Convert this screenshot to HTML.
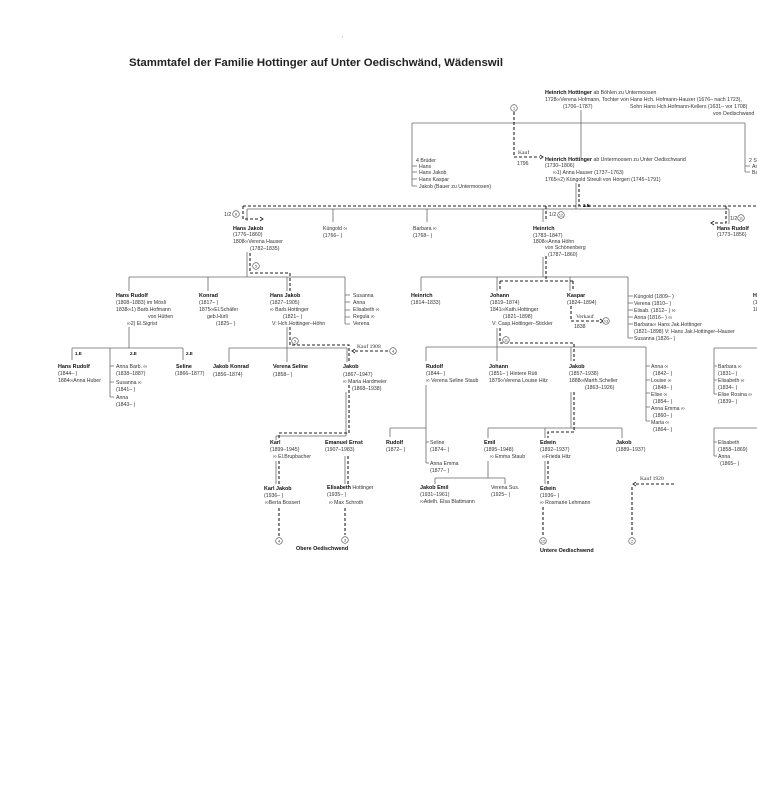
<!DOCTYPE html>
<html><head><meta charset="utf-8"><style>
html,body{margin:0;padding:0;background:#fff;}
svg{display:block}
text{font-family:"Liberation Sans","DejaVu Sans",sans-serif;font-size:5.2px;fill:#333}
.b{font-weight:bold;fill:#111;font-size:5.4px}
.s{font-family:"Liberation Serif","DejaVu Serif",serif;font-size:5.6px;fill:#333}
.l{stroke:#6a6a6a;stroke-width:.8;fill:none}
.d{stroke:#222;stroke-width:1.1;fill:none;stroke-dasharray:3 2}
.a{stroke:#222;stroke-width:.9;fill:none}
.c{fill:#fff;stroke:#444;stroke-width:.6}
.cn{font-size:3.8px;text-anchor:middle;fill:#333}
</style></head><body>
<svg width="757" height="800" viewBox="0 0 757 800" xmlns="http://www.w3.org/2000/svg">
<rect width="757" height="800" fill="#fff"/>
<text x="342" y="38" style="font-size:4px;fill:#888">ı</text>
<text x="129" y="66" style="font-size:11px;font-weight:bold;fill:#222" textLength="374" lengthAdjust="spacingAndGlyphs">Stammtafel der Familie Hottinger auf Unter Oedischwänd, Wädenswil</text>

<!-- SOLID LINES -->
<path class="l" d="M581 110V158 M412 123H745 M412 123V186 M412 166H417 M412 172H417 M412 179H417 M412 186H417 M745 123V172 M745 166H750 M745 172H750
M576 183V209 M247 209H729 M247 209V221 M333 209V222 M427 209V222 M543 209V222 M729 209V224
M247 252V277 M129 277H345 M129 277V291 M208 277V291 M287 277V291 M345 277V324 M345 295H350 M345 302H350 M345 310H350 M345 317H350 M345 324H350
M543 257V277 M421 277H628 M421 277V291 M497 277V291 M570 277V291 M628 277V338 M628 296H633 M628 303H633 M628 310H633 M628 317H633 M628 324H633 M628 338H633
M129 327V348 M72 348H183 M72 348V360 M110 348V397 M110 366H114 M110 382H114 M110 397H114 M183 348V360
M287 327V362 M229 348H347 M229 348V362 M347 348V362
M346 392V436 M276 436H346 M276 436V440 M276 461V484 M345 456V484
M497 328V361 M426 347H646 M426 347V361 M571 347V361 M646 347V421 M646 366H650 M646 380H650 M646 393H650 M646 407H650 M646 421H650
M426 385V463 M426 442H429 M426 463H429 M390 428H426 M390 428V437
M571 392V428 M488 428H622 M488 428V438 M545 428V438 M622 428V438
M488 461V478 M435 478H505 M435 478V484 M505 478V484 M545 461V484
M714 348H757 M714 348V394 M714 366H717 M714 380H717 M714 394H717 M714 428H757 M714 428V456 M714 442H717 M714 456H717"/>

<!-- DASHED LINES -->
<path class="d" d="M514 112V157H540 M579 184V206 M243 206H757 M243 206V219H260 M546 206V221 M726 206V223H714
M250 253V273H290V291 M546 256V281 M500 281H573 M500 281V291 M573 281V291 M571 306V321H600
M290 327V345H349V362 M349 385V433H279V440 M279 461V484 M279 508V537 M348 456V484 M345 508V535
M388 351H355 M500 328V343H574V361 M574 392V432H548V438 M548 461V484 M543 507V537
M636 484H675 M632 487V537"/>
<!-- arrowheads -->
<path class="a" d="M540 155L543 157L540 159 M260 217L263 219L260 221 M714 221L711 223L714 225 M600 319L603 321L600 323 M355 349L352 351L355 353 M636 482L633 484L636 486"/>

<!-- CIRCLES -->
<g>
<circle class="c" cx="514" cy="108" r="3.3"/><text class="cn" x="514" y="109.4">1</text>
<circle class="c" cx="236" cy="214" r="3.3"/><text class="cn" x="236" y="215.4">6</text>
<circle class="c" cx="561" cy="215" r="3.3"/><text class="cn" x="561" y="216.4">12</text>
<circle class="c" cx="741" cy="218" r="3.3"/><text class="cn" x="741" y="219.4">11</text>
<circle class="c" cx="256" cy="266" r="3.3"/><text class="cn" x="256" y="267.4">5</text>
<circle class="c" cx="606" cy="321" r="3.3"/><text class="cn" x="606" y="322.4">13</text>
<circle class="c" cx="295" cy="341" r="3.3"/><text class="cn" x="295" y="342.4">5</text>
<circle class="c" cx="393" cy="351" r="3.3"/><text class="cn" x="393" y="352.4">4</text>
<circle class="c" cx="506" cy="340" r="3.3"/><text class="cn" x="506" y="341.4">11</text>
<circle class="c" cx="279" cy="541" r="3.3"/><text class="cn" x="279" y="542.4">4</text>
<circle class="c" cx="345" cy="540" r="3.3"/><text class="cn" x="345" y="541.4">3</text>
<circle class="c" cx="543" cy="541" r="3.3"/><text class="cn" x="543" y="542.4">12</text>
<circle class="c" cx="632" cy="541" r="3.3"/><text class="cn" x="632" y="542.4">2</text>
</g>

<!-- TOP -->
<text x="545" y="94"><tspan class="b">Heinrich Hottinger</tspan> ab Böhlen zu Untermoosen</text>
<text x="545" y="101">1728∞Verena Hofmann, Tochter von Hans Hch. Hofmann-Hauser (1676– nach 1723),</text>
<text x="563" y="108">(1706–1787)</text>
<text x="630" y="108">Sohn Hans Hch.Hofmann-Kellers (1631– vor 1708)</text>
<text x="713" y="115">von Oedischwand</text>
<text class="s" x="518" y="154">Kauf</text>
<text x="517" y="165">1796</text>
<text x="545" y="161"><tspan class="b">Heinrich Hottinger</tspan> ab Untermoosen zu Unter Oedischwand</text>
<text x="545" y="167">(1730–1806)</text>
<text x="553" y="174">∞1) Anna Hauser (1737–1763)</text>
<text x="545" y="181">1765∞2) Küngold Streuli von Horgen (1745–1791)</text>
<text x="416" y="162">4 Brüder</text>
<text x="419" y="168">Hans</text>
<text x="419" y="174">Hans Jakob</text>
<text x="419" y="181">Hans Kaspar</text>
<text x="419" y="188">Jakob (Bauer zu Untermoosen)</text>
<text x="749" y="162">2 Schwestern</text>
<text x="752" y="168">Anna</text>
<text x="752" y="174">Barbara</text>

<!-- GEN III -->
<text x="224" y="216">1/2</text>
<text class="b" x="233" y="230">Hans Jakob</text>
<text x="233" y="236">(1776–1860)</text>
<text x="233" y="243">1808∞Verena Hauser</text>
<text x="250" y="250">(1782–1835)</text>
<text x="323" y="230">Küngold ∞</text>
<text x="323" y="237">(1766–    )</text>
<text x="413" y="230">Barbara ∞</text>
<text x="413" y="237">(1768–    )</text>
<text x="549" y="216">1/2</text>
<text class="b" x="533" y="230">Heinrich</text>
<text x="533" y="237">(1783–1847)</text>
<text x="533" y="243">1808∞Anna Höhn</text>
<text x="545" y="249">von Schönenberg</text>
<text x="548" y="256">(1787–1860)</text>
<text class="b" x="583" y="207" style="font-size:4.5px">2.E</text>
<text x="730" y="220">1/2</text>
<text class="b" x="717" y="230">Hans Rudolf</text>
<text x="717" y="236">(1773–1856)</text>

<!-- GEN IV left -->
<text class="b" x="116" y="297">Hans Rudolf</text>
<text x="116" y="304">(1808–1883) im Mösli</text>
<text x="116" y="311">1838∞1) Barb.Hofmann</text>
<text x="148" y="318">von Hütten</text>
<text x="127" y="325">∞2) El.Sigrist</text>
<text class="b" x="199" y="297">Konrad</text>
<text x="199" y="304">(1817–    )</text>
<text x="199" y="311">1875∞El.Schäfer</text>
<text x="207" y="318">geb.Hürli</text>
<text x="216" y="325">(1825–    )</text>
<text class="b" x="270" y="297">Hans Jakob</text>
<text x="270" y="304">(1827–1905)</text>
<text x="270" y="311">∞ Barb.Hottinger</text>
<text x="283" y="318">(1821–    )</text>
<text x="272" y="325">V: Hch.Hottinger–Höhn</text>
<text x="353" y="297">Susanna</text>
<text x="353" y="304">Anna</text>
<text x="353" y="311">Elisabeth ∞</text>
<text x="353" y="318">Regula ∞</text>
<text x="353" y="325">Verena</text>

<!-- GEN IV middle -->
<text class="b" x="411" y="297">Heinrich</text>
<text x="411" y="304">(1814–1833)</text>
<text class="b" x="490" y="297">Johann</text>
<text x="490" y="304">(1819–1874)</text>
<text x="490" y="311">1841∞Kath.Hottinger</text>
<text x="503" y="318">(1821–1898)</text>
<text x="492" y="325">V: Casp.Hottinger–Stickler</text>
<text class="b" x="567" y="297">Kaspar</text>
<text x="567" y="304">(1824–1894)</text>
<text class="s" x="576" y="318">Verkauf</text>
<text x="574" y="328">1838</text>
<text x="634" y="298">Küngold (1809–    )</text>
<text x="634" y="305">Verena (1810–    )</text>
<text x="634" y="312">Elisab. (1812–    ) ∞</text>
<text x="634" y="319">Anna (1816–    ) ∞</text>
<text x="634" y="326">Barbara∞ Hans Jak.Hottinger</text>
<text x="634" y="333">(1821–1898)  V: Hans Jak.Hottinger–Hauser</text>
<text x="634" y="340">Susanna (1826–    )</text>
<text class="b" x="753" y="297">H</text>
<text x="753" y="304">(1</text>
<text x="753" y="311">18</text>

<!-- GEN V left -->
<text class="b" x="75" y="355" style="font-size:4.5px">1.E</text>
<text class="b" x="130" y="355" style="font-size:4.5px">2.E</text>
<text class="b" x="186" y="355" style="font-size:4.5px">2.E</text>
<text class="b" x="58" y="368">Hans Rudolf</text>
<text x="58" y="375">(1844–    )</text>
<text x="58" y="382">1884∞Anna Huber</text>
<text x="116" y="368">Anna Barb. ∞</text>
<text x="116" y="375">(1838–1887)</text>
<text x="116" y="384">Susanna ∞</text>
<text x="116" y="391">(1841–    )</text>
<text x="116" y="399">Anna</text>
<text x="116" y="406">(1843–    )</text>
<text class="b" x="176" y="368">Seline</text>
<text x="175" y="375">(1866–1877)</text>
<text class="b" x="213" y="368">Jakob Konrad</text>
<text x="213" y="376">(1856–1874)</text>
<text class="b" x="273" y="368">Verena Seline</text>
<text x="273" y="376">(1858–    )</text>
<text class="b" x="343" y="368">Jakob</text>
<text x="343" y="376">(1867–1947)</text>
<text x="343" y="383">∞ Maria Hardmeier</text>
<text x="352" y="390">(1868–1938)</text>
<text class="s" x="357" y="348">Kauf 1908</text>

<!-- GEN VI/VII left -->
<text class="b" x="270" y="444">Karl</text>
<text x="270" y="451">(1899–1945)</text>
<text x="273" y="458">∞ El.Brupbacher</text>
<text class="b" x="325" y="444">Emanuel Ernst</text>
<text x="325" y="451">(1907–1983)</text>
<text class="b" x="264" y="490">Karl Jakob</text>
<text x="264" y="497">(1936–    )</text>
<text x="265" y="504">∞Berta Bossert</text>
<text x="327" y="489"><tspan class="b">Elisabeth</tspan> Hottinger</text>
<text x="327" y="496">(1935–    )</text>
<text x="329" y="504">∞ Max Schroth</text>
<text class="b" x="296" y="550">Obere Oedischwend</text>

<!-- GEN V middle -->
<text class="b" x="426" y="368">Rudolf</text>
<text x="426" y="375">(1844–    )</text>
<text x="426" y="382">∞ Verena Seline Staub</text>
<text class="b" x="489" y="368">Johann</text>
<text x="489" y="375">(1851–    ) Hintere Rüti</text>
<text x="489" y="382">1879∞Verena Louise Hitz</text>
<text class="b" x="569" y="368">Jakob</text>
<text x="569" y="375">(1857–1938)</text>
<text x="569" y="382">1888∞Marth.Scheller</text>
<text x="585" y="389">(1863–1926)</text>
<text x="651" y="368">Anna ∞</text>
<text x="653" y="375">(1842–    )</text>
<text x="651" y="382">Louise ∞</text>
<text x="653" y="389">(1848–    )</text>
<text x="651" y="396">Elise ∞</text>
<text x="653" y="403">(1854–    )</text>
<text x="651" y="410">Anna Emma ∞</text>
<text x="653" y="417">(1860–    )</text>
<text x="651" y="424">Maria ∞</text>
<text x="653" y="431">(1864–    )</text>

<!-- GEN VI middle -->
<text class="b" x="386" y="444">Rudolf</text>
<text x="386" y="451">(1872–    )</text>
<text x="430" y="444">Seline</text>
<text x="430" y="451">(1874–    )</text>
<text x="430" y="465">Anna Emma</text>
<text x="430" y="472">(1877–    )</text>
<text class="b" x="484" y="444">Emil</text>
<text x="484" y="451">(1895–1948)</text>
<text x="490" y="458">∞ Emma Staub</text>
<text class="b" x="540" y="444">Edwin</text>
<text x="540" y="451">(1892–1937)</text>
<text x="542" y="458">∞Frieda Hitz</text>
<text class="b" x="616" y="444">Jakob</text>
<text x="616" y="451">(1889–1937)</text>
<text class="b" x="420" y="489">Jakob Emil</text>
<text x="420" y="496">(1931–1961)</text>
<text x="420" y="503">∞Adelh. Elsa Blattmann</text>
<text x="491" y="489">Verena Sus.</text>
<text x="491" y="496">(1925–    )</text>
<text class="b" x="540" y="490">Edwin</text>
<text x="540" y="497">(1936–    )</text>
<text x="540" y="504">∞ Rosmarie Lehmann</text>
<text class="b" x="540" y="552">Untere Oedischwend</text>
<text class="s" x="640" y="480">Kauf 1920</text>

<!-- RIGHT lists -->
<text x="718" y="368">Barbara ∞</text>
<text x="718" y="375">(1831–    )</text>
<text x="718" y="382">Elisabeth ∞</text>
<text x="718" y="389">(1834–    )</text>
<text x="718" y="396">Elise Rosina ∞</text>
<text x="718" y="403">(1839–    )</text>
<text x="718" y="444">Elisabeth</text>
<text x="718" y="451">(1858–1869)</text>
<text x="718" y="458">Anna</text>
<text x="720" y="465">(1865–    )</text>
</svg>
</body></html>
